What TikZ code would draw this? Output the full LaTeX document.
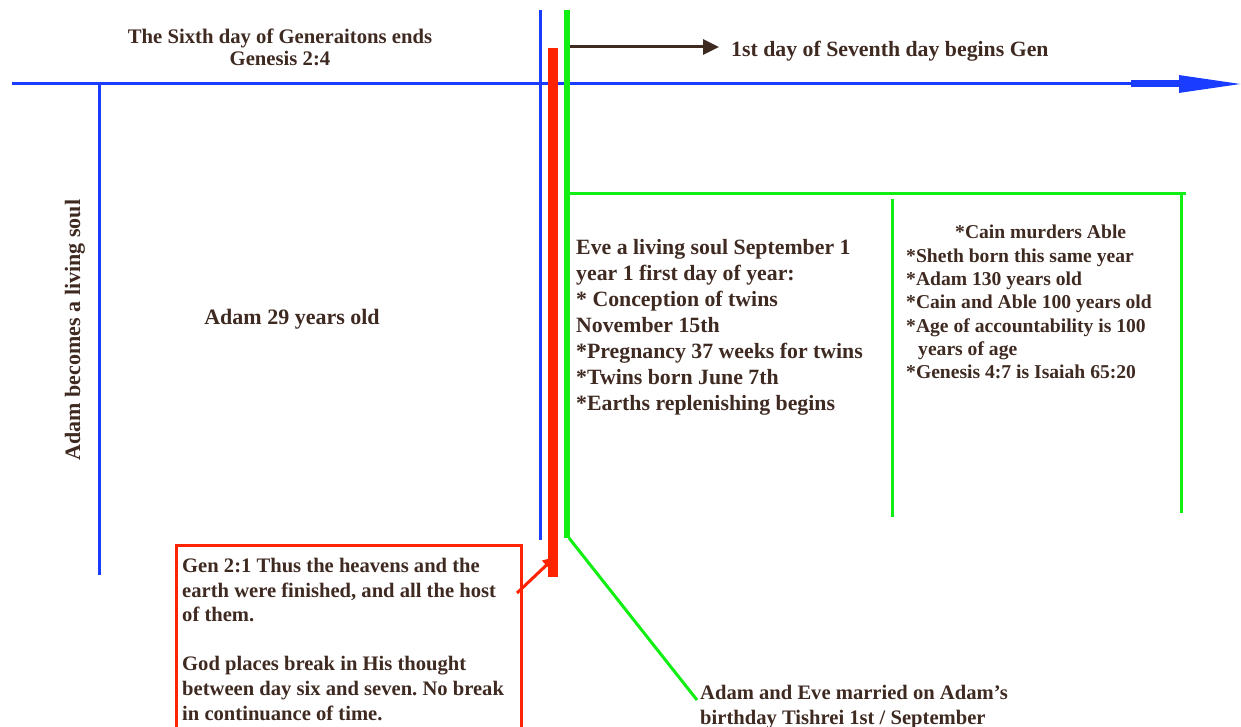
\documentclass[tikz,border=0pt]{standalone}
\usepackage{fontspec}
\setmainfont{Liberation Serif}
\usepackage{tikz}
\usetikzlibrary{arrows.meta,positioning}
\definecolor{axisblue}{HTML}{1A3CFF}
\definecolor{dayred}{HTML}{FF2400}
\definecolor{limegreen}{HTML}{11EE11}
\definecolor{textbrown}{HTML}{3F2A22}
\frenchspacing

\begin{document}
\begin{tikzpicture}[
    x=1pt, y=-1pt,
    every node/.style={font=\bfseries, text=textbrown, inner sep=0pt},
    bigtext/.style={font=\bfseries\fontsize{21.8}{26}\selectfont, align=left, anchor=north west},
    smalltext/.style={font=\bfseries\fontsize{19.6}{23.3}\selectfont, align=left, anchor=north west},
    noteline/.style={font=\bfseries\fontsize{20.6}{24.6}\selectfont, align=left, anchor=north west},
    blueline/.style={axisblue, line width=3pt},
    greenline/.style={limegreen, line width=3pt},
    arrow/.style={-{Triangle[length=16pt,width=15pt]}, line width=3pt}
]
    \useasboundingbox (0,0) rectangle (1241,727);
    \clip (0,0) rectangle (1241,727);

    % === TIME AXIS ===
    \coordinate (axisstart) at (12,84);
    \coordinate (axisend) at (1241,84);
    \draw[blueline, -{Triangle[length=62pt,width=17pt]}] (axisstart) -- (axisend);
    \draw[axisblue, line width=7pt] (1131,84) -- (1180,84);

    % === SIXTH DAY ===
    \node[font=\bfseries\fontsize{20.7}{22}\selectfont, align=center] (sixth) at (280,47)
        {The Sixth day of Generaitons ends\\Genesis 2:4};
    \coordinate (adamtop) at (99,84);
    \coordinate (adambot) at (99,575);
    \draw[blueline] (adamtop) -- (adambot);
    \node[font=\bfseries\fontsize{22}{24}\selectfont, rotate=90] (soul) at (75,330) {Adam becomes a living soul};
    \node[font=\bfseries\fontsize{22}{24}\selectfont] (adam29) at (292,319) {Adam 29 years old};

    % === BREAK BETWEEN DAYS ===
    \coordinate (sixendtop) at (540,10);
    \coordinate (sixendbot) at (540,540);
    \draw[blueline] (sixendtop) -- (sixendbot);
    \fill[dayred] (548,48) rectangle (558,577);
    \coordinate (breakbar) at (555,557);

    % === SEVENTH DAY ===
    \coordinate (seventop) at (567,10);
    \coordinate (sevenbot) at (567,538);
    \draw[limegreen, line width=6pt] (seventop) -- (sevenbot);
    \node[font=\bfseries\fontsize{21.8}{24}\selectfont, anchor=west] (seventh) at (731,51)
        {1st day of Seventh day begins Gen};
    \coordinate (sevenarrow) at (570,47);
    \draw[arrow, textbrown, shorten >=12pt] (sevenarrow) -- (sevenarrow -| seventh.west);

    % === YEAR BOXES ===
    \draw[greenline] (567,194) -- (1186,194);
    \draw[greenline] (892,199) -- (892,517);
    \draw[greenline] (1181,194) -- (1181,513);

    \node[bigtext] (eve) at (576,239)
        {Eve a living soul September 1\\
         year 1 first day of year:\\
         * Conception of twins\\
         November 15th\\
         *Pregnancy 37 weeks for twins\\
         *Twins born June 7th\\
         *Earths replenishing begins};

    \node[smalltext] (cain) at (906,225)
        {\hspace*{49pt}*Cain murders Able\\
         *Sheth born this same year\\
         *Adam 130 years old\\
         *Cain and Able 100 years old\\
         *Age of accountability is 100\\
         \hspace*{12pt}years of age\\
         *Genesis 4:7 is Isaiah 65:20};

    % === GEN 2:1 NOTE ===
    \draw[dayred, line width=3pt] (176,545) rectangle (521,790);
    \node[noteline] (gennote) at (182,558)
        {Gen 2:1 Thus the heavens and the\\
         earth were finished, and all the host\\
         of them.\\[24.6pt]
         God places break in His thought\\
         between day six and seven. No break\\
         in continuance of time.};
    \coordinate (genarrow) at (517,593);
    \draw[-{Triangle[length=12pt,width=12pt]}, dayred, line width=3pt] (genarrow) -- (breakbar);

    % === MARRIAGE ===
    \node[noteline] (wed) at (700,685)
        {Adam and Eve married on Adam’s\\
         birthday Tishrei 1st / September};
    \coordinate (wedline) at (697,700);
    \draw[greenline] (569,538) -- (wedline);
\end{tikzpicture}
\end{document}
